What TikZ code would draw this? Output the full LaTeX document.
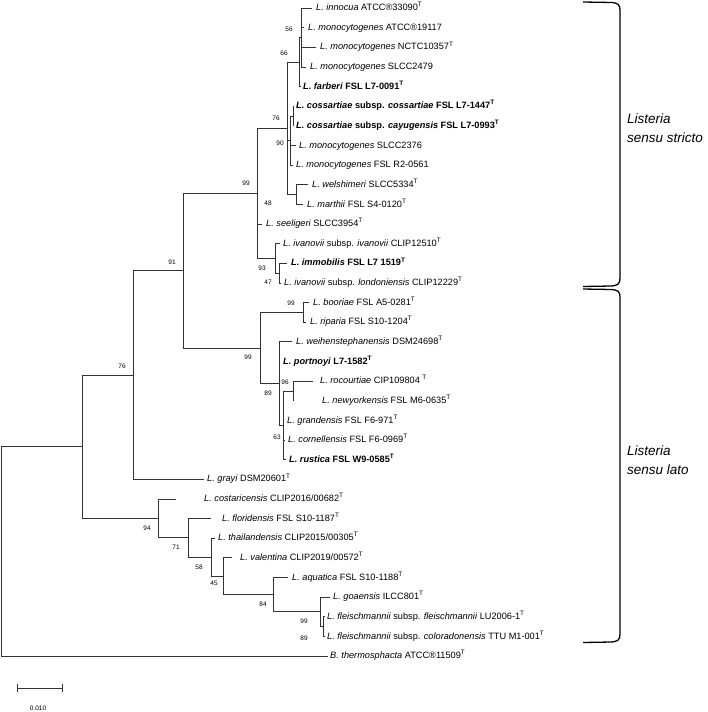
\documentclass[tikz,border=0pt]{standalone}
\usepackage{fontspec}
\setmainfont{Liberation Sans}
\newcommand{\tT}{\textsuperscript{T}}
\def\R#1{(8+(#1-1)*19.636)}
\begin{document}
\begin{tikzpicture}[x=1pt,y=-1pt,
  br/.style={draw=black!80,line width=0.8pt,line cap=rect},
  lf/.style={anchor=mid west,inner sep=0pt,font=\fontsize{9.2}{10}\selectfont},
  bs/.style={inner sep=0pt,font=\fontsize{6.5}{7}\selectfont},
  brk/.style={draw=black,line width=1.3pt},
  grp/.style={anchor=west,inner sep=0pt,font=\fontsize{13.5}{16}\selectfont\itshape}]
\useasboundingbox (0,0) rectangle (708,712);

% ---------- internal nodes ----------
\coordinate (nR)   at (1,{\R{28.67}});
\coordinate (nA)   at (82,{\R{23.34}});
\coordinate (n76)  at (133,{\R{19.6875}});
\coordinate (n91)  at (183,{\R{14.375}});
\coordinate (n99a) at (257,{\R{10.4375}});
\coordinate (n76s) at (287,{\R{7.125}});
\coordinate (n66)  at (299,{\R{3.75}});
\coordinate (n56)  at (301,{\R{2.5}});
\coordinate (n90)  at (290,{\R{7.75}});
\coordinate (nC)   at (293,{\R{6.5}});
\coordinate (n48)  at (296,{\R{10.5}});
\coordinate (n93)  at (275,{\R{13.75}});
\coordinate (n47)  at (279,{\R{14.5}});
\coordinate (n99b) at (260,{\R{18.3125}});
\coordinate (nBR)  at (303,{\R{16.5}});
\coordinate (n89)  at (279,{\R{20.125}});
\coordinate (n63)  at (283,{\R{22.25}});
\coordinate (n96)  at (293,{\R{20.5}});
\coordinate (n94)  at (158,{\R{26.992}});
\coordinate (n71)  at (188,{\R{27.984}});
\coordinate (n58)  at (211,{\R{28.969}});
\coordinate (n45)  at (223,{\R{29.9375}});
\coordinate (n84)  at (273,{\R{30.875}});
\coordinate (n99c) at (320,{\R{31.75}});
\coordinate (n89c) at (323,{\R{32.5}});

% ---------- leaves: branch ends and labels ----------
\coordinate (e1) at (312,{\R{1}});  \node[lf] (l1) at (316,{\R{1}}) {\textit{L. innocua} ATCC®33090\tT};
\coordinate (e2) at (304,{\R{2}});  \node[lf] (l2) at (308,{\R{2}}) {\textit{L. monocytogenes} ATCC®19117};
\coordinate (e3) at (316,{\R{3}});  \node[lf] (l3) at (320,{\R{3}}) {\textit{L. monocytogenes} NCTC10357\tT};
\coordinate (e4) at (306,{\R{4}});  \node[lf] (l4) at (310,{\R{4}}) {\textit{L. monocytogenes} SLCC2479};
\coordinate (e5) at (301,{\R{5}});  \node[lf] (l5) at (303,{\R{5}}) {\bfseries\textit{L. farberi} FSL L7-0091\tT};
\coordinate (e6) at (294,{\R{6}});  \node[lf] (l6) at (296,{\R{6}}) {\bfseries\textit{L. cossartiae} subsp. \textit{cossartiae} FSL L7-1447\tT};
\coordinate (e7) at (294,{\R{7}});  \node[lf] (l7) at (296,{\R{7}}) {\bfseries\textit{L. cossartiae} subsp. \textit{cayugensis} FSL L7-0993\tT};
\coordinate (e8) at (296,{\R{8}});  \node[lf] (l8) at (299,{\R{8}}) {\textit{L. monocytogenes} SLCC2376};
\coordinate (e9) at (293,{\R{9}});  \node[lf] (l9) at (296,{\R{9}}) {\textit{L. monocytogenes} FSL R2-0561};
\coordinate (e10) at (308,{\R{10}}); \node[lf] (l10) at (312,{\R{10}}) {\textit{L. welshimeri} SLCC5334\tT};
\coordinate (e11) at (303,{\R{11}}); \node[lf] (l11) at (307,{\R{11}}) {\textit{L. marthii} FSL S4-0120\tT};
\coordinate (e12) at (262,{\R{12}}); \node[lf] (l12) at (266,{\R{12}}) {\textit{L. seeligeri} SLCC3954\tT};
\coordinate (e13) at (280,{\R{13}}); \node[lf] (l13) at (283,{\R{13}}) {\textit{L. ivanovii} subsp. \textit{ivanovii} CLIP12510\tT};
\coordinate (e14) at (287,{\R{14}}); \node[lf] (l14) at (291,{\R{14}}) {\bfseries\textit{L. immobilis} FSL L7 1519\tT};
\coordinate (e15) at (281,{\R{15}}); \node[lf] (l15) at (284,{\R{15}}) {\textit{L. ivanovii} subsp. \textit{londoniensis} CLIP12229\tT};
\coordinate (e16) at (309,{\R{16}}); \node[lf] (l16) at (313,{\R{16}}) {\textit{L. booriae} FSL A5-0281\tT};
\coordinate (e17) at (306,{\R{17}}); \node[lf] (l17) at (310,{\R{17}}) {\textit{L. riparia} FSL S10-1204\tT};
\coordinate (e18) at (292,{\R{18}}); \node[lf] (l18) at (296,{\R{18}}) {\textit{L. weihenstephanensis} DSM24698\tT};
\coordinate (e19) at (280,{\R{19}}); \node[lf] (l19) at (283,{\R{19}}) {\bfseries\textit{L. portnoyi} L7-1582\tT};
\coordinate (e20) at (313,{\R{20}}); \node[lf] (l20) at (320,{\R{20}}) {\textit{L. rocourtiae} CIP109804 \tT};
\coordinate (e21) at (294,{\R{21}}); \node[lf] (l21) at (322,{\R{21}}) {\textit{L. newyorkensis} FSL M6-0635\tT};
\coordinate (e22) at (284,{\R{22}}); \node[lf] (l22) at (287,{\R{22}}) {\textit{L. grandensis} FSL F6-971\tT};
\coordinate (e23) at (285,{\R{23}}); \node[lf] (l23) at (288,{\R{23}}) {\textit{L. cornellensis} FSL F6-0969\tT};
\coordinate (e24) at (286,{\R{24}}); \node[lf] (l24) at (289,{\R{24}}) {\bfseries\textit{L. rustica} FSL W9-0585\tT};
\coordinate (e25) at (204,{\R{25}}); \node[lf] (l25) at (207,{\R{25}}) {\textit{L. grayi} DSM20601\tT};
\coordinate (e26) at (176,{\R{26}}); \node[lf] (l26) at (204,{\R{26}}) {\textit{L. costaricensis} CLIP2016/00682\tT};
\coordinate (e27) at (211,{\R{27}}); \node[lf] (l27) at (222,{\R{27}}) {\textit{L. floridensis} FSL S10-1187\tT};
\coordinate (e28) at (215,{\R{28}}); \node[lf] (l28) at (218,{\R{28}}) {\textit{L. thailandensis} CLIP2015/00305\tT};
\coordinate (e29) at (232,{\R{29}}); \node[lf] (l29) at (240,{\R{29}}) {\textit{L. valentina} CLIP2019/00572\tT};
\coordinate (e30) at (288,{\R{30}}); \node[lf] (l30) at (292,{\R{30}}) {\textit{L. aquatica} FSL S10-1188\tT};
\coordinate (e31) at (330,{\R{31}}); \node[lf] (l31) at (333,{\R{31}}) {\textit{L. goaensis} ILCC801\tT};
\coordinate (e32) at (325,{\R{32}}); \node[lf] (l32) at (327,{\R{32}}) {\textit{L. fleischmannii} subsp. \textit{fleischmannii} LU2006-1\tT};
\coordinate (e33) at (325,{\R{33}}); \node[lf] (l33) at (327,{\R{33}}) {\textit{L. fleischmannii} subsp. \textit{coloradonensis} TTU M1-001\tT};
\coordinate (e34) at (328,{\R{34}}); \node[lf] (l34) at (330,{\R{34}}) {\textit{B. thermosphacta} ATCC®11509\tT};

% ---------- branches ----------
\draw[br] (nR) |- (nA);   \draw[br] (nR) |- (e34);
\draw[br] (nA) |- (n76);  \draw[br] (nA) |- (n94);
\draw[br] (n76) |- (n91); \draw[br] (n76) |- (e25);
\draw[br] (n91) |- (n99a); \draw[br] (n91) |- (n99b);
\draw[br] (n99a) |- (n76s); \draw[br] (n99a) |- (e12); \draw[br] (n99a) |- (n93);
\draw[br] (n76s) |- (n66); \draw[br] (n76s) |- (n90); \draw[br] (n76s) |- (n48);
\draw[br] (n66) |- (n56); \draw[br] (n66) |- (e5);
\draw[br] (n56) |- (e1); \draw[br] (n56) |- (e2); \draw[br] (n56) |- (e3); \draw[br] (n56) |- (e4);
\draw[br] (n90) |- (nC); \draw[br] (n90) |- (e8); \draw[br] (n90) |- (e9);
\draw[br] (nC) |- (e6); \draw[br] (nC) |- (e7);
\draw[br] (n48) |- (e10); \draw[br] (n48) |- (e11);
\draw[br] (n93) |- (e13); \draw[br] (n93) |- (n47);
\draw[br] (n47) |- (e14); \draw[br] (n47) |- (e15);
\draw[br] (n99b) |- (nBR); \draw[br] (n99b) |- (n89);
\draw[br] (nBR) |- (e16); \draw[br] (nBR) |- (e17);
\draw[br] (n89) |- (e18); \draw[br] (n89) |- (e19); \draw[br] (n89) |- (n63);
\draw[br] (n63) |- (n96); \draw[br] (n63) |- (e22); \draw[br] (n63) |- (e23); \draw[br] (n63) |- (e24);
\draw[br] (n96) |- (e20); \draw[br] (n96) |- (e21);
\draw[br] (n94) |- (e26); \draw[br] (n94) |- (n71);
\draw[br] (n71) |- (e27); \draw[br] (n71) |- (n58);
\draw[br] (n58) |- (e28); \draw[br] (n58) |- (n45);
\draw[br] (n45) |- (e29); \draw[br] (n45) |- (n84);
\draw[br] (n84) |- (e30); \draw[br] (n84) |- (n99c);
\draw[br] (n99c) |- (e31); \draw[br] (n99c) |- (n89c);
\draw[br] (n89c) |- (e32); \draw[br] (n89c) |- (e33);

% ---------- bootstrap values ----------
\node[bs] (b56) at (289,29) {56};
\node[bs] (b66) at (284,53) {66};
\node[bs] (b76s) at (276,118) {76};
\node[bs] (b90) at (280,143) {90};
\node[bs] (b48) at (268,203) {48};
\node[bs] (b99a) at (246,183) {99};
\node[bs] (b93) at (262,268) {93};
\node[bs] (b47) at (268,282) {47};
\node[bs] (b91) at (172,262) {91};
\node[bs] (b99br) at (291,303) {99};
\node[bs] (b99b) at (248,357) {99};
\node[bs] (b96) at (285,382) {96};
\node[bs] (b89) at (268,393) {89};
\node[bs] (b63) at (277,437) {63};
\node[bs] (b76) at (122,366) {76};
\node[bs] (b94) at (147,528) {94};
\node[bs] (b71) at (176,547) {71};
\node[bs] (b58) at (199,567) {58};
\node[bs] (b45) at (214,583) {45};
\node[bs] (b84) at (263,604) {84};
\node[bs] (b99c) at (304,621) {99};
\node[bs] (b89c) at (304,638) {89};

% ---------- scale bar ----------
\coordinate (s1) at (17,688); \coordinate (s2) at (62,688);
\draw[br] (s1) -- (s2);
\draw[br] ([yshift=-4pt]s1) -- ([yshift=4pt]s1);
\draw[br] ([yshift=-4pt]s2) -- ([yshift=4pt]s2);
\node[bs] (sl) at (38,708) {0.010};

% ---------- group brackets ----------
\draw[brk] (583,2) -- (612,2.5) .. controls (618,3) and (620,5) .. (620,10)
  -- (620,278) .. controls (620,284) and (618,285.5) .. (611,286) -- (583,286.5);
\draw[brk] (583,289) -- (611,289.5) .. controls (618,290) and (620,291.5) .. (620,297)
  -- (620,634) .. controls (620,640) and (618,641.5) .. (611,642) -- (583,642.5);
\node[grp] (g1a) at (627,119) {Listeria};
\node[grp] (g1b) at (627,138) {sensu stricto};
\node[grp] (g2a) at (627,451) {Listeria};
\node[grp] (g2b) at (627,470) {sensu lato};
\end{tikzpicture}
\end{document}
